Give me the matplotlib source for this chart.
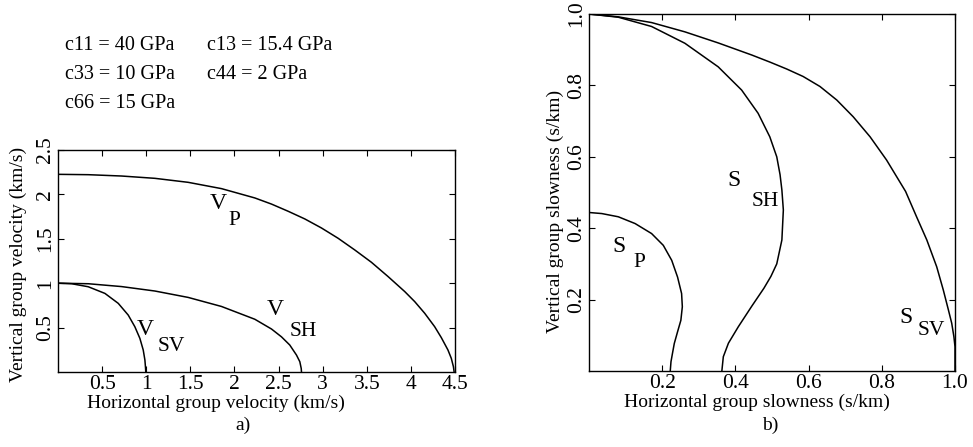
"""
Group velocity and group slowness curves for a VTI medium
"""
import matplotlib
matplotlib.use('Agg')
import matplotlib.pyplot as plt

plt.rcParams['font.family'] = ['Liberation Serif', 'DejaVu Serif']

# ---------------------------------------------------------------------
# Velocity curves (km/s): horizontal, vertical component
# ---------------------------------------------------------------------
vp_x = [0.0, 0.343, 0.72, 1.098, 1.475, 1.853, 2.231, 2.42, 2.609, 2.797, 2.986, 3.175,
        3.363, 3.552, 3.741, 3.93, 4.043, 4.156, 4.269, 4.345, 4.42, 4.458, 4.482, 4.49]
vp_y = [2.226, 2.222, 2.207, 2.181, 2.136, 2.065, 1.960, 1.891, 1.810, 1.724, 1.622, 1.506,
        1.375, 1.236, 1.075, 0.906, 0.793, 0.662, 0.511, 0.387, 0.248, 0.154, 0.06, 0.0]

vsh_x = [0.0, 0.343, 0.72, 1.098, 1.475, 1.853, 2.231, 2.42, 2.533, 2.627, 2.703, 2.741,
         2.757, 2.76]
vsh_y = [1.0, 0.994, 0.962, 0.912, 0.840, 0.738, 0.594, 0.484, 0.396, 0.304, 0.191, 0.116,
         0.04, 0.0]

vsv_x = [0.0, 0.155, 0.343, 0.532, 0.683, 0.796, 0.871, 0.928, 0.966, 0.985, 0.992, 0.995]
vsv_y = [1.0, 0.994, 0.96, 0.885, 0.773, 0.641, 0.51, 0.379, 0.248, 0.135, 0.049, 0.0]

# ---------------------------------------------------------------------
# Slowness curves (s/km)
# ---------------------------------------------------------------------
ssv_x = [0.0, 0.08, 0.171, 0.262, 0.353, 0.445, 0.495, 0.54, 0.585, 0.631, 0.677, 0.722,
         0.768, 0.813, 0.865, 0.895, 0.923, 0.95, 0.968, 0.982, 0.991, 0.997, 1.0, 1.0]
ssv_y = [1.0, 0.992, 0.976, 0.950, 0.919, 0.885, 0.865, 0.846, 0.825, 0.797, 0.759, 0.712,
         0.656, 0.591, 0.503, 0.432, 0.367, 0.292, 0.227, 0.171, 0.134, 0.096, 0.068, 0.0]

ssh_x = [0.0, 0.08, 0.171, 0.262, 0.353, 0.417, 0.462, 0.494, 0.513, 0.522, 0.527, 0.531,
         0.527, 0.513, 0.497, 0.478, 0.445, 0.408, 0.381, 0.367, 0.363]
ssh_y = [1.0, 0.991, 0.965, 0.918, 0.852, 0.787, 0.722, 0.656, 0.600, 0.55, 0.507, 0.451,
         0.367, 0.300, 0.265, 0.232, 0.182, 0.124, 0.078, 0.04, 0.0]

sp_x = [0.0, 0.035, 0.08, 0.126, 0.171, 0.203, 0.226, 0.242, 0.253, 0.255, 0.251, 0.242,
        0.233, 0.228, 0.224, 0.222]
sp_y = [0.444, 0.441, 0.432, 0.413, 0.385, 0.352, 0.310, 0.263, 0.217, 0.180, 0.142, 0.110,
        0.077, 0.049, 0.026, 0.0]

params = [['c11 = 40 GPa', 'c13 = 15.4 GPa'],
          ['c33 = 10 GPa', 'c44 = 2 GPa'],
          ['c66 = 15 GPa', '']]

left_xticks = [0.5, 1, 1.5, 2, 2.5, 3, 3.5, 4, 4.5]
left_yticks = [0.5, 1, 1.5, 2, 2.5]
right_ticks = [0.2, 0.4, 0.6, 0.8, 1.0]

W, H = 973, 447
fig = plt.figure(figsize=(W / 100, H / 100), dpi=100, facecolor='white')

FS = 14
TFS = 15.5
LW = 1.1


def style(ax):
    ax.tick_params(direction='in', top=True, right=True, length=4, width=0.8,
                   labelsize=TFS)
    ax.tick_params(axis='x', pad=2.5)
    ax.tick_params(axis='y', pad=2)
    for s in ax.spines.values():
        s.set_linewidth(1.0)
    for lab in ax.get_yticklabels():
        lab.set_rotation(90)
        lab.set_va('center')


# =====================================================================
# a) group velocity
# =====================================================================
ax1 = fig.add_axes([58 / W, 1 - 372 / H, 397 / W, 222 / H])
ax1.plot(vp_x, vp_y, color='black', lw=LW)
ax1.plot(vsh_x, vsh_y, color='black', lw=LW)
ax1.plot(vsv_x, vsv_y, color='black', lw=LW)
ax1.set_xlim(0, 4.5)
ax1.set_ylim(0, 2.5)
ax1.set_xticks(left_xticks)
ax1.set_xticklabels(['0.5', '1', '1.5', '2', '2.5', '3', '3.5', '4', '4.5'])
ax1.set_yticks(left_yticks)
ax1.set_yticklabels(['0.5', '1', '1.5', '2', '2.5'])
style(ax1)
ax1.set_xlabel('Horizontal group velocity (km/s)', fontsize=FS)
ax1.set_ylabel('Vertical group velocity (km/s)', fontsize=FS)
ax1.xaxis.set_label_coords(0.398, -0.10)
ax1.yaxis.set_label_coords(-0.079, 0.485)

ax1.text(1.815, 1.90, 'V', fontsize=17, ha='center', va='center')
ax1.text(2.0, 1.71, 'P', fontsize=15.5, ha='center', va='center')
ax1.text(0.985, 0.473, 'V', fontsize=17, ha='center', va='center')
ax1.text(1.29, 0.285, 'SV', fontsize=15.5, ha='center', va='center')
ax1.text(2.46, 0.70, 'V', fontsize=17, ha='center', va='center')
ax1.text(2.78, 0.454, 'SH', fontsize=15.5, ha='center', va='center')

for i, row in enumerate(params):
    fig.text(65 / W, 1 - (45 + 29.5 * i) / H, row[0], fontsize=14.5, va='center')
    fig.text(207 / W, 1 - (45 + 29.5 * i) / H, row[1], fontsize=14.5, va='center')

fig.text(243 / W, 1 - 425 / H, 'a)', fontsize=FS, ha='center', va='center')

# =====================================================================
# b) group slowness
# =====================================================================
ax2 = fig.add_axes([589 / W, 1 - 371 / H, 366 / W, 357 / H])
ax2.plot(ssv_x, ssv_y, color='black', lw=LW)
ax2.plot(ssh_x, ssh_y, color='black', lw=LW)
ax2.plot(sp_x, sp_y, color='black', lw=LW)
ax2.set_xlim(0, 1)
ax2.set_ylim(0, 1)
ax2.set_xticks(right_ticks)
ax2.set_xticklabels(['0.2', '0.4', '0.6', '0.8', '1.0'])
ax2.set_yticks(right_ticks)
ax2.set_yticklabels(['0.2', '0.4', '0.6', '0.8', '1.0'])
style(ax2)
ax2.set_xlabel('Horizontal group slowness (s/km)', fontsize=FS)
ax2.set_ylabel('Vertical group slowness (s/km)', fontsize=FS)
ax2.xaxis.set_label_coords(0.459, -0.064)
ax2.yaxis.set_label_coords(-0.068, 0.448)

ax2.text(0.397, 0.535, 'S', fontsize=17, ha='center', va='center')
ax2.text(0.481, 0.474, 'SH', fontsize=15.5, ha='center', va='center')
ax2.text(0.082, 0.35, 'S', fontsize=17, ha='center', va='center')
ax2.text(0.139, 0.304, 'P', fontsize=15.5, ha='center', va='center')
ax2.text(0.866, 0.150, 'S', fontsize=17, ha='center', va='center')
ax2.text(0.936, 0.113, 'SV', fontsize=15.5, ha='center', va='center')

fig.text(770 / W, 1 - 425 / H, 'b)', fontsize=FS, ha='center', va='center')

fig.savefig('out.png', dpi=100, facecolor='white')
plt.close(fig)
